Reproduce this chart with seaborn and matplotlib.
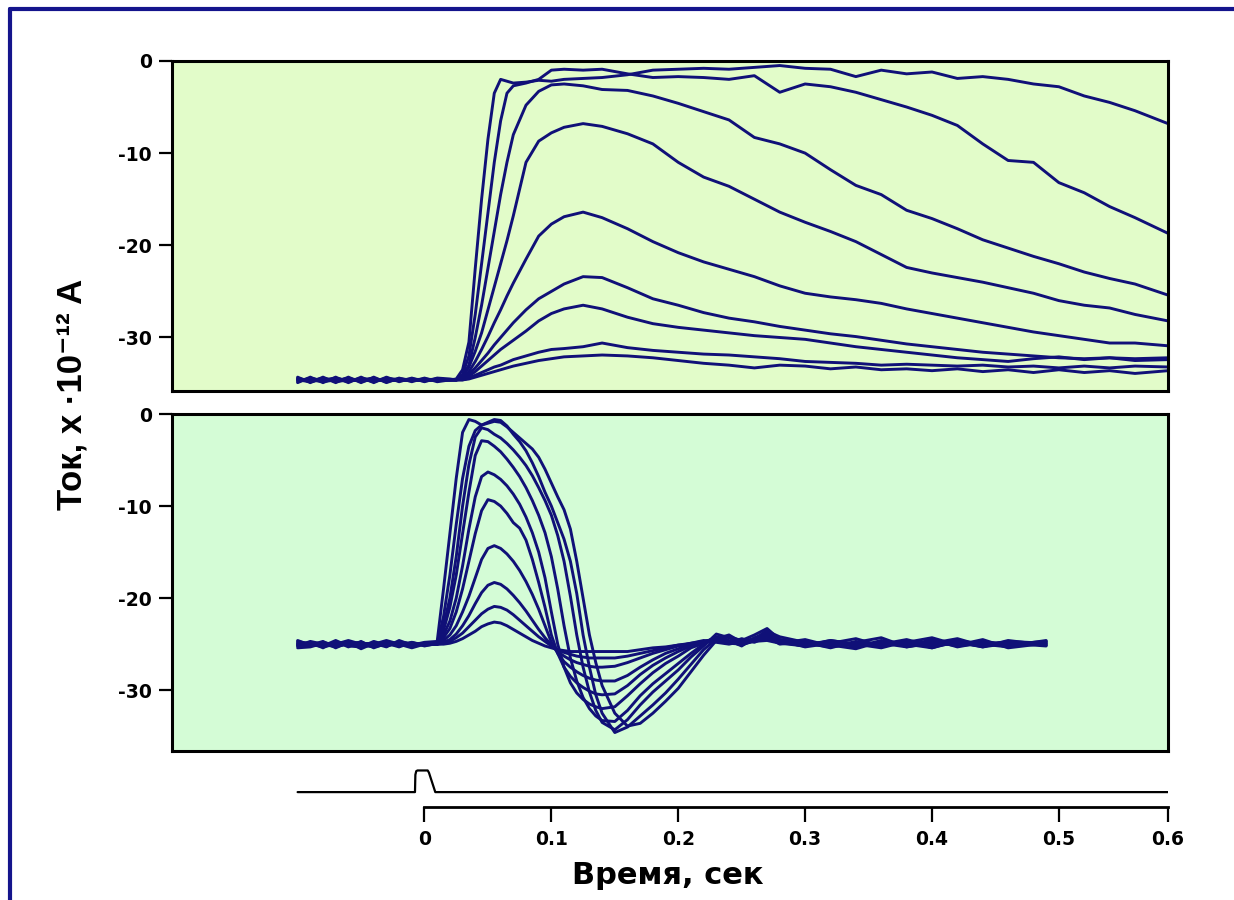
import numpy as np
import pandas as pd
import seaborn as sns
import matplotlib
matplotlib.use('Agg')
from matplotlib import pyplot as plt
from matplotlib.lines import Line2D

sns.set_style('ticks')
plt.rcParams['font.family'] = ['DejaVu Sans']
plt.rcParams['font.weight'] = 'bold'
plt.rcParams['axes.unicode_minus'] = False
plt.rcParams['text.color'] = 'black'
plt.rcParams['axes.labelcolor'] = 'black'
plt.rcParams['xtick.color'] = 'black'
plt.rcParams['ytick.color'] = 'black'

LINE = '#101078'
BORDER = '#14148c'

# ---- top panel: time axis (s) and current traces (x 1e-12 A)
t_top = [-0.100, -0.090, -0.080, -0.070, -0.060, -0.050, -0.040, -0.030, -0.020, -0.010,
         0.000, 0.010, 0.020, 0.025, 0.030, 0.035, 0.040, 0.045, 0.050, 0.055,
         0.060, 0.065, 0.070, 0.080, 0.090, 0.100, 0.110, 0.125, 0.140, 0.160,
         0.180, 0.200, 0.220, 0.240, 0.260, 0.280, 0.300, 0.320, 0.340, 0.360,
         0.380, 0.400, 0.420, 0.440, 0.460, 0.480, 0.500, 0.520, 0.540, 0.560, 0.586]

top_c1 = [-34.3, -34.9, -34.3, -34.9, -34.3, -34.9, -34.3, -34.9, -34.4, -34.8, -34.4, -34.8, -34.6,
          -34.5, -33.5, -30.5, -22.5, -15.0, -8.5, -3.5, -2.0, -2.2, -2.4, -2.3, -2.1, -2.2,
          -2.0, -1.9, -1.8, -1.5, -1.0, -0.9, -0.8, -0.9, -0.7, -0.5, -0.8, -0.9, -1.7, -1.0,
          -1.4, -1.2, -1.9, -1.7, -2.0, -2.5, -2.8, -3.8, -4.5, -5.4, -6.8]
top_c2 = [-34.9, -34.3, -34.9, -34.3, -34.9, -34.3, -34.9, -34.3, -34.8, -34.4, -34.8, -34.4, -34.5,
          -34.6, -34.0, -32.0, -27.5, -22.0, -16.5, -11.0, -6.5, -3.5, -2.7, -2.4, -2.0, -1.0,
          -0.9, -1.0, -0.9, -1.4, -1.8, -1.7, -1.8, -2.0, -1.6, -3.4, -2.5, -2.8, -3.4, -4.2,
          -5.0, -5.9, -7.0, -9.0, -10.8, -11.0, -13.2, -14.3, -15.8, -17.0, -18.7]
top_c3 = [-34.6, -34.5, -34.7, -34.5, -34.6, -34.6, -34.5, -34.7, -34.6, -34.5, -34.6, -34.6, -34.6,
          -34.6, -34.2, -33.0, -30.0, -26.5, -22.5, -18.5, -14.5, -11.0, -8.0, -4.8, -3.3, -2.6,
          -2.5, -2.7, -3.1, -3.2, -3.8, -4.6, -5.5, -6.4, -8.3, -9.0, -10.0, -11.8, -13.5, -14.5,
          -16.2, -17.1, -18.2, -19.4, -20.3, -21.2, -22.0, -22.9, -23.6, -24.2, -25.4]
top_c4 = [-34.4, -34.8, -34.5, -34.7, -34.4, -34.8, -34.5, -34.7, -34.5, -34.6, -34.5, -34.7, -34.6,
          -34.6, -34.3, -33.2, -31.5, -29.5, -27.0, -24.5, -22.0, -19.5, -16.8, -11.0, -8.7, -7.8,
          -7.2, -6.8, -7.1, -7.9, -9.0, -11.0, -12.6, -13.6, -15.0, -16.4, -17.5, -18.5, -19.6, -21.0,
          -22.4, -23.0, -23.5, -24.0, -24.6, -25.2, -26.0, -26.5, -26.8, -27.5, -28.2]
top_c5 = [-34.8, -34.4, -34.7, -34.5, -34.8, -34.4, -34.7, -34.5, -34.7, -34.5, -34.7, -34.5, -34.6,
          -34.6, -34.4, -33.7, -32.6, -31.3, -29.9, -28.4, -27.0, -25.5, -24.1, -21.5, -19.0, -17.7,
          -16.9, -16.4, -17.0, -18.2, -19.6, -20.8, -21.8, -22.6, -23.4, -24.4, -25.2, -25.6, -25.9, -26.3,
          -26.9, -27.4, -27.9, -28.4, -28.9, -29.4, -29.8, -30.2, -30.6, -30.6, -30.9]
top_c6 = [-34.5, -34.7, -34.4, -34.8, -34.6, -34.5, -34.8, -34.4, -34.6, -34.7, -34.5, -34.6, -34.6,
          -34.6, -34.5, -34.0, -33.3, -32.5, -31.7, -30.8, -30.0, -29.2, -28.4, -27.0, -25.8, -25.0,
          -24.2, -23.4, -23.5, -24.6, -25.8, -26.5, -27.3, -27.9, -28.3, -28.8, -29.2, -29.6, -29.9, -30.3,
          -30.7, -31.0, -31.3, -31.6, -31.8, -32.0, -32.2, -32.3, -32.2, -32.3, -32.2]
top_c7 = [-34.7, -34.5, -34.6, -34.4, -34.7, -34.6, -34.4, -34.8, -34.5, -34.6, -34.7, -34.5, -34.6,
          -34.6, -34.5, -34.2, -33.7, -33.1, -32.5, -31.9, -31.3, -30.8, -30.3, -29.3, -28.2, -27.4,
          -26.9, -26.5, -26.9, -27.8, -28.5, -28.9, -29.2, -29.5, -29.8, -30.0, -30.2, -30.6, -31.0, -31.3,
          -31.6, -31.9, -32.2, -32.4, -32.6, -32.3, -32.1, -32.4, -32.2, -32.5, -32.4]
top_c8 = [-34.6, -34.8, -34.5, -34.6, -34.5, -34.7, -34.6, -34.5, -34.7, -34.6, -34.6, -34.5, -34.6,
          -34.6, -34.6, -34.4, -34.1, -33.8, -33.5, -33.2, -33.0, -32.7, -32.4, -32.0, -31.6, -31.3,
          -31.2, -31.0, -30.6, -31.1, -31.4, -31.6, -31.8, -31.9, -32.1, -32.3, -32.6, -32.7, -32.8, -33.0,
          -32.9, -33.0, -33.1, -33.0, -33.2, -33.1, -33.3, -33.1, -33.3, -33.1, -33.2]
top_c9 = [-34.5, -34.6, -34.8, -34.6, -34.5, -34.6, -34.7, -34.6, -34.5, -34.6, -34.7, -34.6, -34.6,
          -34.6, -34.6, -34.5, -34.3, -34.1, -33.9, -33.7, -33.5, -33.3, -33.1, -32.8, -32.5, -32.3,
          -32.1, -32.0, -31.9, -32.0, -32.2, -32.5, -32.8, -33.0, -33.3, -33.0, -33.1, -33.4, -33.2, -33.5,
          -33.4, -33.6, -33.4, -33.7, -33.5, -33.8, -33.5, -33.8, -33.6, -33.9, -33.6]

# ---- bottom panel
t_bot = [-0.100, -0.090, -0.080, -0.070, -0.060, -0.050, -0.040, -0.030, -0.020, -0.010,
         0.000, 0.010, 0.015, 0.020, 0.025, 0.030, 0.035, 0.040, 0.045, 0.050,
         0.055, 0.060, 0.065, 0.070, 0.075, 0.080, 0.085, 0.090, 0.095, 0.100,
         0.105, 0.110, 0.115, 0.120, 0.125, 0.130, 0.135, 0.140, 0.150, 0.160,
         0.170, 0.180, 0.190, 0.200, 0.210, 0.220, 0.230, 0.240, 0.250, 0.260,
         0.270, 0.280, 0.300, 0.320, 0.340, 0.360, 0.380, 0.400, 0.420, 0.440,
         0.460, 0.490]

bot_c1 = [-24.6, -25.1, -24.7, -25.4, -24.8, -25.5, -24.9, -25.3, -24.6, -25.1,
          -24.8, -24.7, -19.0, -13.0, -7.0, -2.0, -0.6, -0.8, -1.2, -1.0,
          -0.8, -0.9, -1.4, -2.0, -2.6, -3.2, -3.8, -4.7, -6.0, -7.5,
          -9.0, -10.4, -12.5, -16.0, -20.0, -24.0, -27.0, -29.5, -32.5, -33.9,
          -33.6, -32.5, -31.2, -29.8, -28.0, -26.2, -24.6, -24.2, -24.6, -24.0,
          -23.3, -24.5, -25.1, -24.7, -25.3, -24.6, -25.2, -24.5, -25.3, -24.8,
          -25.2, -24.6]
bot_c2 = [-25.0, -24.8, -25.4, -24.7, -25.3, -24.7, -25.4, -24.9, -25.3, -24.8,
          -25.2, -24.9, -22.0, -17.5, -12.0, -7.0, -3.5, -1.8, -1.2, -0.9,
          -0.6, -0.7, -1.3, -2.2, -3.0, -4.0, -5.3, -6.8, -8.5, -10.0,
          -11.8, -13.6, -16.0, -19.5, -24.0, -27.5, -30.5, -32.5, -34.6, -34.0,
          -32.8, -31.6, -30.3, -28.8, -27.2, -25.6, -24.4, -24.0, -24.8, -24.4,
          -23.6, -24.2, -24.8, -25.4, -24.7, -25.2, -24.6, -25.4, -24.7, -25.3,
          -24.6, -25.1]
bot_c3 = [-25.4, -25.3, -24.9, -25.0, -24.6, -25.0, -25.0, -24.6, -25.0, -25.4,
          -25.0, -25.0, -23.0, -20.0, -15.5, -10.0, -5.5, -2.5, -1.5, -1.7,
          -2.2, -2.6, -3.2, -3.9, -4.7, -5.6, -6.7, -8.0, -9.4, -11.0,
          -13.2, -16.0, -19.8, -24.0, -27.5, -30.2, -32.2, -33.5, -34.3, -33.2,
          -31.6, -30.2, -29.0, -27.8, -26.4, -25.2, -23.9, -24.3, -25.0, -24.5,
          -23.5, -24.6, -25.3, -24.9, -24.4, -25.2, -24.8, -24.3, -25.1, -24.5,
          -25.4, -24.9]
bot_c4 = [-24.7, -25.0, -25.2, -24.6, -25.2, -25.3, -24.7, -25.1, -24.8, -24.9,
          -25.1, -24.8, -23.5, -21.0, -17.5, -13.0, -8.5, -4.5, -2.9, -3.0,
          -3.5, -4.1, -4.9, -5.8, -6.8, -8.0, -9.4, -11.0, -12.9, -15.5,
          -19.0, -23.0, -26.5, -29.0, -30.8, -32.0, -32.8, -33.3, -33.4, -32.2,
          -30.6, -29.3, -28.2, -27.1, -26.0, -25.0, -24.2, -24.6, -25.2, -24.3,
          -23.8, -24.9, -24.5, -25.2, -24.8, -24.3, -25.3, -24.9, -24.4, -25.2,
          -24.8, -25.0]
bot_c5 = [-25.2, -24.7, -25.0, -25.3, -24.9, -24.8, -25.2, -24.7, -25.1, -25.0,
          -24.9, -25.0, -24.0, -22.5, -20.0, -16.5, -12.5, -9.0, -6.8, -6.3,
          -6.6, -7.1, -7.8, -8.7, -9.8, -11.2, -12.9, -15.0, -17.8, -21.5,
          -25.0, -27.5, -29.2, -30.3, -31.0, -31.5, -31.8, -32.0, -31.8, -30.6,
          -29.3, -28.1, -27.1, -26.3, -25.4, -24.9, -24.5, -24.9, -24.4, -24.8,
          -24.2, -25.0, -24.7, -25.1, -25.5, -24.7, -25.0, -25.4, -24.6, -25.0,
          -25.3, -24.7]
bot_c6 = [-24.9, -25.2, -24.8, -25.1, -25.0, -24.9, -25.1, -24.9, -25.2, -24.8,
          -25.1, -25.0, -24.3, -23.3, -21.5, -19.0, -16.0, -13.0, -10.5, -9.3,
          -9.5, -10.0, -10.8, -11.8, -12.4, -13.7, -15.8, -18.3, -21.0, -24.0,
          -26.0, -27.5, -28.5, -29.2, -29.7, -30.1, -30.4, -30.5, -30.4, -29.5,
          -28.3, -27.3, -26.5, -25.8, -25.2, -24.8, -24.3, -24.7, -25.1, -24.6,
          -24.3, -24.8, -25.2, -24.6, -25.0, -25.4, -24.7, -25.1, -24.8, -25.3,
          -24.9, -25.2]
bot_c7 = [-25.1, -24.9, -25.1, -24.9, -25.1, -25.0, -24.9, -25.2, -24.9, -25.1,
          -25.0, -25.0, -24.6, -24.0, -23.0, -21.5, -19.8, -17.8, -15.8, -14.6,
          -14.3, -14.6, -15.2, -16.0, -17.0, -18.2, -19.6, -21.2, -23.0, -24.8,
          -26.0, -26.9, -27.5, -28.0, -28.4, -28.7, -28.9, -29.0, -29.0, -28.4,
          -27.5, -26.7, -26.0, -25.5, -25.0, -24.7, -24.4, -24.8, -25.0, -24.5,
          -24.1, -24.7, -25.0, -24.8, -25.2, -24.9, -25.3, -24.8, -25.1, -24.7,
          -25.1, -24.8]
bot_c8 = [-24.8, -25.0, -25.3, -25.0, -24.8, -25.1, -25.3, -25.0, -24.8, -25.0,
          -25.1, -25.0, -24.8, -24.5, -23.9, -23.0, -21.9, -20.6, -19.4, -18.6,
          -18.3, -18.5, -19.0, -19.7, -20.5, -21.4, -22.4, -23.4, -24.3, -25.1,
          -25.8, -26.3, -26.7, -27.0, -27.2, -27.4, -27.5, -27.5, -27.4, -27.0,
          -26.5, -26.0, -25.6, -25.2, -24.9, -24.6, -24.8, -25.0, -24.7, -24.4,
          -24.0, -24.5, -24.9, -25.3, -24.9, -25.0, -24.5, -25.2, -24.9, -25.2,
          -24.7, -24.9]
bot_c9 = [-25.0, -25.1, -24.9, -25.2, -25.0, -24.9, -25.0, -25.1, -24.9, -25.0,
          -25.0, -25.0, -24.9, -24.7, -24.3, -23.8, -23.1, -22.4, -21.7, -21.2,
          -20.9, -21.0, -21.3, -21.8, -22.4, -23.0, -23.6, -24.2, -24.7, -25.2,
          -25.6, -25.9, -26.1, -26.3, -26.4, -26.5, -26.5, -26.5, -26.5, -26.3,
          -26.0, -25.7, -25.4, -25.1, -24.9, -24.7, -24.5, -24.8, -24.9, -24.6,
          -24.4, -24.8, -25.1, -24.6, -25.0, -25.2, -24.8, -25.0, -24.6, -25.1,
          -25.0, -24.7]
bot_c10 = [-25.2, -25.0, -25.1, -24.9, -25.0, -25.2, -25.1, -24.8, -25.1, -25.2,
           -24.9, -25.0, -25.0, -24.9, -24.7, -24.4, -24.0, -23.6, -23.1, -22.8,
           -22.6, -22.7, -23.0, -23.4, -23.8, -24.2, -24.6, -24.9, -25.2, -25.4,
           -25.6, -25.7, -25.8, -25.8, -25.8, -25.8, -25.8, -25.8, -25.8, -25.8,
           -25.6, -25.4, -25.3, -25.1, -25.0, -24.8, -24.7, -24.9, -25.0, -24.7,
           -24.6, -24.9, -25.2, -24.7, -25.1, -24.8, -25.1, -24.7, -25.2, -24.9,
           -24.8, -25.1]

# ---- light stimulus (relative units)
stim_t = [-0.100, -0.0075, -0.0072, -0.0065, -0.0055, 0.0025, 0.0035, 0.0085, 0.586]
stim_v = [0.0, 0.0, 0.8, 0.97, 1.0, 1.0, 0.9, 0.0, 0.0]

xticks = [0, 0.1, 0.2, 0.3, 0.4, 0.5, 0.586]
xticklabels = ['0', '0.1', '0.2', '0.3', '0.4', '0.5', '0.6']
yticks = [0, -10, -20, -30]
yticklabels = ['0', '-10', '-20', '-30']


def long_df(t, traces):
    parts = []
    for i, v in enumerate(traces):
        parts.append(pd.DataFrame({'t': t, 'I': v, 'trace': i}))
    return pd.concat(parts, ignore_index=True)


df_top = long_df(t_top, [top_c1, top_c2, top_c3, top_c4, top_c5, top_c6, top_c7, top_c8, top_c9])
df_bot = long_df(t_bot, [bot_c1, bot_c2, bot_c3, bot_c4, bot_c5, bot_c6, bot_c7, bot_c8, bot_c9, bot_c10])
df_stim = pd.DataFrame({'t': stim_t, 'I': stim_v})

fig = plt.figure(figsize=(12.34, 9.0), dpi=100)
ax1 = fig.add_axes([0.1394, 0.5656, 0.8071, 0.3667])
ax2 = fig.add_axes([0.1394, 0.1656, 0.8071, 0.3744])
ax3 = fig.add_axes([0.1394, 0.1033, 0.8071, 0.05])

XMIN, XMAX = -0.199, 0.586

for ax, df, bg, ylim in [(ax1, df_top, '#e2fcc9', (-35.8, 0)),
                         (ax2, df_bot, '#d4fcd6', (-36.6, 0))]:
    sns.lineplot(data=df, x='t', y='I', units='trace', estimator=None, sort=False,
                 color=LINE, linewidth=2.1, ax=ax, legend=False)
    ax.set_facecolor(bg)
    ax.set_xlim(XMIN, XMAX)
    ax.set_ylim(*ylim)
    ax.set_xticks([])
    ax.set_yticks(yticks)
    ax.set_yticklabels(yticklabels)
    ax.set_xlabel('')
    ax.set_ylabel('')
    for s in ax.spines.values():
        s.set_visible(True)
        s.set_linewidth(2.2)
        s.set_color('black')
    ax.tick_params(axis='y', direction='out', length=9.5, width=1.6, pad=5,
                   labelsize=13.5, colors='black')

# stimulus trace with the time axis
sns.lineplot(data=df_stim, x='t', y='I', sort=False, estimator=None, color='black',
             linewidth=1.6, ax=ax3)
ax3.set_facecolor('none')
ax3.set_xlim(XMIN, XMAX)
ax3.set_ylim(-0.69, 1.39)
ax3.set_yticks([])
ax3.set_ylabel('')
ax3.set_xlabel('')
for side in ['top', 'left', 'right']:
    ax3.spines[side].set_visible(False)
ax3.spines['bottom'].set_linewidth(2.0)
ax3.spines['bottom'].set_color('black')
ax3.spines['bottom'].set_bounds(0, XMAX)
ax3.set_xticks(xticks)
ax3.set_xticklabels(xticklabels)
ax3.tick_params(axis='x', direction='out', length=10.8, width=1.6, pad=6, labelsize=13.5,
                colors='black')

fig.text(668 / 1234, 1 - 875 / 900, 'Время, сек', ha='center', va='center',
         fontsize=22, fontweight='bold', color='black')
fig.text(72 / 1234, 1 - 394 / 900, 'Ток, x ·10⁻¹² A', ha='center', va='center',
         rotation=90, fontsize=25, fontweight='bold', color='black',
         family=['Liberation Sans', 'DejaVu Sans'])

# slide frame (left and top edges)
fig.add_artist(Line2D([10 / 1234, 10 / 1234], [0, 1 - 8.5 / 900], transform=fig.transFigure,
                      color=BORDER, linewidth=3))
fig.add_artist(Line2D([10 / 1234, 1], [1 - 8.5 / 900, 1 - 8.5 / 900], transform=fig.transFigure,
                      color=BORDER, linewidth=3))

fig.savefig('out.png', dpi=100, facecolor='white')
